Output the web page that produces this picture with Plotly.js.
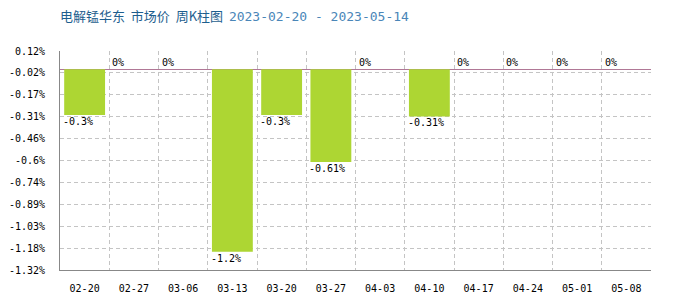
<!DOCTYPE html>
<html>
<head>
<meta charset="utf-8">
<script src="https://cdn.plot.ly/plotly-3.0.1.min.js"></script>
<style>html,body{margin:0;padding:0;background:#fff;}#chart{width:700px;height:300px;}</style>
</head>
<body>
<div id="chart"></div>
<script>
const categories = ['02-20','02-27','03-06','03-13','03-20','03-27','04-03','04-10','04-17','04-24','05-01','05-08'];
const values = [-0.3, 0, 0, -1.2, -0.3, -0.61, 0, -0.31, 0, 0, 0, 0];
const valueLabels = ['-0.3%','0%','0%','-1.2%','-0.3%','-0.61%','0%','-0.31%','0%','0%','0%','0%'];
const yTickVals = [0.12, -0.024, -0.168, -0.312, -0.456, -0.6, -0.744, -0.888, -1.032, -1.176, -1.32];
const yTickText = ['0.12%','-0.02%','-0.17%','-0.31%','-0.46%','-0.6%','-0.74%','-0.89%','-1.03%','-1.18%','-1.32%'];

const W = 700, H = 300;
const margin = {l: 60, r: 49, t: 51, b: 30};
const bargap = 0.17;
const catPx = (W - margin.l - margin.r) / categories.length;
const halfBar = catPx * (1 - bargap) / 2;
const mono = 'DejaVu Sans Mono, monospace';

const annotations = values.map((v, i) => ({
  x: categories[i], y: v, xref: 'x', yref: 'y',
  text: valueLabels[i], showarrow: false,
  xanchor: 'left', yanchor: v < 0 ? 'top' : 'bottom',
  xshift: -halfBar - 3, yshift: v < 0 ? 1 : -1,
  font: {family: mono, size: 10, color: '#000'}
}));

const trace = {
  type: 'bar', x: categories, y: values,
  marker: {color: '#add633', line: {width: 0}},
  hoverinfo: 'none'
};

const layout = {
  width: W, height: H, margin: margin,
  paper_bgcolor: '#fff', plot_bgcolor: '#fff',
  bargap: bargap, showlegend: false,
  title: {
    text: '电解锰华东&nbsp; 市场价&nbsp; 周K柱图&nbsp; <span style="color:#4a86b8;font-family:DejaVu Sans Mono">2023-02-20 - 2023-05-14</span>',
    font: {family: 'Noto Sans CJK SC, sans-serif', size: 13, color: '#1d5e8e'},
    xref: 'paper', x: 0, xanchor: 'left',
    yref: 'container', y: 1 - 16 / H, yanchor: 'middle'
  },
  xaxis: {
    type: 'category', tickson: 'boundaries',
    showgrid: true, gridcolor: '#c4c4c4', griddash: '4px,3px', gridwidth: 1,
    showline: true, linecolor: '#888', linewidth: 1,
    ticks: '', ticklabelstandoff: 9,
    tickfont: {family: mono, size: 10, color: '#000'},
    fixedrange: true
  },
  yaxis: {
    range: [-1.32, 0.12], tickmode: 'array', tickvals: yTickVals, ticktext: yTickText,
    showgrid: true, gridcolor: '#c4c4c4', griddash: '4px,3px', gridwidth: 1,
    showline: true, linecolor: '#888', linewidth: 1,
    zeroline: true, zerolinecolor: '#b07896', zerolinewidth: 1.2,
    ticks: '', ticklabelstandoff: 12,
    tickfont: {family: mono, size: 10, color: '#000'},
    fixedrange: true
  },
  annotations: annotations
};

Plotly.newPlot('chart', [trace], layout, {displayModeBar: false, staticPlot: true});
</script>
</body>
</html>
